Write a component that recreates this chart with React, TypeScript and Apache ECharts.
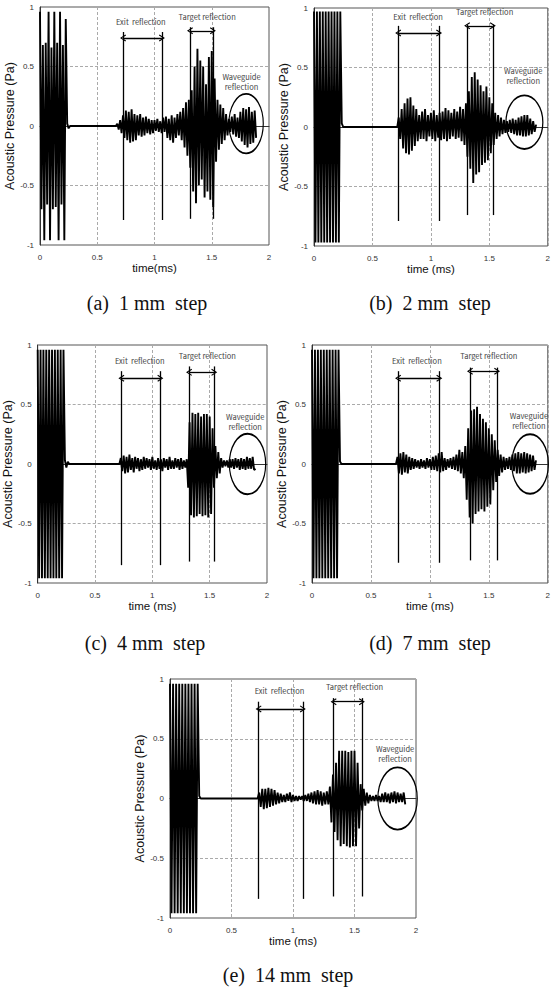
import React, { useEffect, useRef } from 'react';
import * as echarts from 'echarts';

// Sample spacing of the recorded pressure traces (ms), half a period of the 40 kHz tone.
const STEP = 0.0125;

// Signed peak pressure (Pa) of each half-cycle, 8 samples per 0.1 ms row.
const waveA = [
  0.96, -0.7, 0.68, -0.96, 0.7, -0.66, 0.96, -0.96, // 0.0
  0.66, -0.7, 0.96, -0.68, 0.7, -0.96, 0.96, -0.66, // 0.1
  0.68, -0.96, 0.9, 0.02, -0.02, 0, 0, 0, // 0.2
  0, 0, 0, 0, 0, 0, 0, 0, // 0.3
  0, 0, 0, 0, 0, 0, 0, 0, // 0.4
  0, 0, 0, 0, 0, 0, 0, 0, // 0.5
  0, 0, 0, 0, 0, 0, 0.02, -0.03, // 0.6
  0.05, -0.06, 0.09, -0.1, 0.13, -0.12, 0.12, -0.14, // 0.7
  0.14, -0.13, 0.1, -0.12, 0.09, -0.08, 0.1, -0.09, // 0.8
  0.07, -0.08, 0.08, -0.06, 0.06, -0.07, 0.05, -0.06, // 0.9
  0.05, -0.04, 0.06, -0.05, 0.04, -0.06, 0.07, -0.05, // 1.0
  0.08, -0.1, 0.06, -0.12, 0.09, -0.14, 0.07, -0.1, // 1.1
  0.1, -0.08, 0.12, -0.12, 0.15, -0.18, 0.2, -0.25, // 1.2
  0.22, -0.35, 0.3, -0.55, 0.5, -0.65, 0.65, -0.5, // 1.3
  0.55, -0.45, 0.5, -0.6, 0.35, -0.55, 0.58, -0.62, // 1.4
  0.63, -0.68, 0.4, -0.3, 0.22, -0.2, 0.18, -0.15, // 1.5
  0.15, -0.12, 0.1, -0.08, 0.06, -0.05, 0.08, -0.07, // 1.6
  0.1, -0.09, 0.07, -0.1, 0.12, -0.13, 0.15, -0.16, // 1.7
  0.14, -0.18, 0.16, -0.15, 0.12, -0.14, 0.13, -0.1, // 1.8
];

const waveB = [
  0.97, -0.97, 0.97, -0.97, 0.97, -0.97, 0.97, -0.97, // 0.0
  0.97, -0.97, 0.97, -0.97, 0.97, -0.97, 0.97, -0.97, // 0.1
  0.97, -0.97, 0.97, 0.03, 0, 0, 0, 0, // 0.2
  0, 0, 0, 0, 0, 0, 0, 0, // 0.3
  0, 0, 0, 0, 0, 0, 0, 0, // 0.4
  0, 0, 0, 0, 0, 0, 0, 0, // 0.5
  0, 0, 0, 0, 0, 0, 0, 0, // 0.6
  0, 0, 0.08, -0.1, 0.15, -0.18, 0.2, -0.22, // 0.7
  0.24, -0.23, 0.25, -0.2, 0.18, -0.16, 0.15, -0.12, // 0.8
  0.1, -0.1, 0.13, -0.1, 0.15, -0.12, 0.1, -0.08, // 0.9
  0.12, -0.1, 0.14, -0.12, 0.1, -0.09, 0.12, -0.11, // 1.0
  0.13, -0.1, 0.16, -0.12, 0.14, -0.1, 0.12, -0.08, // 1.1
  0.15, -0.1, 0.13, -0.09, 0.17, -0.12, 0.15, -0.15, // 1.2
  0.2, -0.25, 0.3, -0.35, 0.42, -0.47, 0.46, -0.4, // 1.3
  0.4, -0.38, 0.35, -0.32, 0.3, -0.3, 0.34, -0.28, // 1.4
  0.25, -0.22, 0.2, -0.15, 0.12, -0.1, 0.1, -0.08, // 1.5
  0.08, -0.06, 0.06, -0.05, 0.05, -0.04, 0.06, -0.05, // 1.6
  0.07, -0.06, 0.06, -0.07, 0.08, -0.07, 0.09, -0.08, // 1.7
  0.1, -0.08, 0.1, -0.07, 0.07, -0.06, 0.05, -0.04, // 1.8
  0.02, // 1.9
];

const waveC = [
  0.96, -0.96, 0.96, -0.96, 0.96, -0.96, 0.96, -0.96, // 0.0
  0.96, -0.96, 0.96, -0.96, 0.96, -0.96, 0.96, -0.96, // 0.1
  0.96, -0.96, 0.96, 0.03, -0.03, 0.02, 0, 0, // 0.2
  0, 0, 0, 0, 0, 0, 0, 0, // 0.3
  0, 0, 0, 0, 0, 0, 0, 0, // 0.4
  0, 0, 0, 0, 0, 0, 0, 0, // 0.5
  0, 0, 0, 0, 0, 0, 0, 0, // 0.6
  0, 0, 0.05, -0.06, 0.07, -0.08, 0.06, -0.07, // 0.7
  0.08, -0.05, 0.05, -0.07, 0.06, -0.04, 0.05, -0.06, // 0.8
  0.04, -0.05, 0.06, -0.04, 0.05, -0.03, 0.04, -0.05, // 0.9
  0.06, -0.04, 0.03, -0.05, 0.05, -0.04, 0.04, -0.06, // 1.0
  0.05, -0.03, 0.04, -0.05, 0.06, -0.04, 0.03, -0.04, // 1.1
  0.05, -0.03, 0.04, -0.05, 0.05, -0.04, 0.03, -0.03, // 1.2
  0.04, -0.2, 0.35, -0.43, 0.43, -0.45, 0.42, -0.44, // 1.3
  0.43, -0.42, 0.4, -0.44, 0.42, -0.43, 0.42, -0.45, // 1.4
  0.4, -0.42, 0.3, -0.2, 0.15, -0.12, 0.1, -0.08, // 1.5
  0.05, -0.03, 0.03, -0.02, 0.03, -0.03, 0.04, -0.03, // 1.6
  0.04, -0.04, 0.05, -0.03, 0.04, -0.05, 0.05, -0.04, // 1.7
  0.04, -0.05, 0.06, -0.04, 0.05, -0.04, 0.06, -0.05, // 1.8
  -0.04, // 1.9
];

const waveD = [
  0.96, -0.96, 0.96, -0.96, 0.96, -0.96, 0.96, -0.96, // 0.0
  0.96, -0.96, 0.96, -0.96, 0.96, -0.96, 0.96, -0.96, // 0.1
  0.96, -0.96, 0.96, 0.02, 0, 0, 0, 0, // 0.2
  0, 0, 0, 0, 0, 0, 0, 0, // 0.3
  0, 0, 0, 0, 0, 0, 0, 0, // 0.4
  0, 0, 0, 0, 0, 0, 0, 0, // 0.5
  0, 0, 0, 0, 0, 0, 0, 0, // 0.6
  0, 0, 0.06, -0.08, 0.09, -0.09, 0.1, -0.07, // 0.7
  0.08, -0.08, 0.06, -0.05, 0.05, -0.04, 0.04, -0.03, // 0.8
  0.03, -0.04, 0.04, -0.03, 0.03, -0.04, 0.05, -0.03, // 0.9
  0.04, -0.05, 0.06, -0.05, 0.07, -0.06, 0.09, -0.07, // 1.0
  0.1, -0.06, 0.05, -0.05, 0.04, -0.03, 0.05, -0.04, // 1.1
  0.06, -0.05, 0.08, -0.06, 0.12, -0.08, 0.1, -0.12, // 1.2
  0.15, -0.3, 0.3, -0.45, 0.45, -0.5, 0.46, -0.42, // 1.3
  0.48, -0.4, 0.42, -0.38, 0.38, -0.4, 0.35, -0.36, // 1.4
  0.3, -0.34, 0.25, -0.22, 0.2, -0.15, 0.12, -0.1, // 1.5
  0.08, -0.07, 0.06, -0.05, 0.05, -0.04, 0.06, -0.05, // 1.6
  0.08, -0.06, 0.09, -0.08, 0.1, -0.08, 0.09, -0.07, // 1.7
  0.1, -0.08, 0.09, -0.07, 0.08, -0.06, 0.07, -0.05, // 1.8
  0.03, // 1.9
];

const waveE = [
  0.96, -0.96, 0.96, -0.96, 0.96, -0.96, 0.96, -0.96, // 0.0
  0.96, -0.96, 0.96, -0.96, 0.96, -0.96, 0.96, -0.96, // 0.1
  0.96, -0.96, 0.96, 0.02, 0, 0, 0, 0, // 0.2
  0, 0, 0, 0, 0, 0, 0, 0, // 0.3
  0, 0, 0, 0, 0, 0, 0, 0, // 0.4
  0, 0, 0, 0, 0, 0, 0, 0, // 0.5
  0, 0, 0, 0, 0, 0, 0, 0, // 0.6
  0, 0, 0.05, -0.07, 0.08, -0.09, 0.08, -0.08, // 0.7
  0.09, -0.07, 0.08, -0.06, 0.07, -0.05, 0.05, -0.04, // 0.8
  0.04, -0.03, 0.03, -0.03, 0.04, -0.02, 0.05, -0.03, // 0.9
  0.03, -0.02, 0.02, -0.02, 0.02, -0.01, 0.02, -0.02, // 1.0
  0.03, -0.02, 0.04, -0.03, 0.05, -0.04, 0.06, -0.05, // 1.1
  0.07, -0.05, 0.06, -0.06, 0.05, -0.05, 0.06, -0.05, // 1.2
  0.1, -0.2, 0.2, -0.28, 0.3, -0.35, 0.4, -0.4, // 1.3
  0.4, -0.38, 0.4, -0.4, 0.39, -0.41, 0.4, -0.4, // 1.4
  0.4, -0.4, 0.3, -0.25, 0.12, -0.1, 0.08, -0.06, // 1.5
  0.05, -0.04, 0.03, -0.02, 0.02, -0.02, 0.03, -0.02, // 1.6
  0.02, -0.03, 0.04, -0.03, 0.05, -0.03, 0.04, -0.04, // 1.7
  0.05, -0.03, 0.06, -0.04, 0.05, -0.03, 0.04, -0.03, // 1.8
  0.05, -0.05, // 1.9
];

const WAVES = [waveA, waveB, waveC, waveD, waveE];

const CAPTIONS = [
  '(a)\u00a0 1 mm\u00a0 step',
  '(b)\u00a0 2 mm\u00a0 step',
  '(c)\u00a0 4 mm\u00a0 step',
  '(d)\u00a0 7 mm\u00a0 step',
  '(e)\u00a0 14 mm\u00a0 step',
];
const X_NAMES = ['time(ms)', 'time (ms)', 'time (ms)', 'time (ms)', 'time (ms)'];
const Y_NAME = 'Acoustic Pressure (Pa)';

// Gate edges (ms) of the exit and target reflections.
const EXIT_EDGES = [[0.725, 1.065], [0.72, 1.07], [0.73, 1.07], [0.73, 1.08], [0.72, 1.08]];
const TARGET_EDGES = [[1.31, 1.51], [1.31, 1.53], [1.32, 1.54], [1.34, 1.57], [1.33, 1.56]];
// Vertical span (Pa) of the gate lines: [top, bottom].
const EXIT_SPAN = [[0.79, -0.79], [0.85, -0.79], [0.78, -0.85], [0.78, -0.83], [0.81, -0.84]];
const TARGET_SPAN = [[0.83, -0.78], [0.86, -0.74], [0.82, -0.82], [0.81, -0.81], [0.84, -0.82]];
// Level (Pa) of the double arrows.
const EXIT_ARROW = [0.74, 0.79, 0.72, 0.72, 0.75];
const TARGET_ARROW = [0.8, 0.85, 0.77, 0.78, 0.81];
// Label anchors [ms, Pa].
const EXIT_LABEL = [[0.88, 0.88], [0.89, 0.93], [0.89, 0.87], [0.89, 0.87], [0.89, 0.9]];
const TARGET_LABEL = [[1.46, 0.92], [1.46, 0.97], [1.48, 0.91], [1.5, 0.91], [1.5, 0.94]];
const GUIDE_LABEL = [[1.76, 0.375], [1.79, 0.43], [1.81, 0.36], [1.84, 0.365], [1.83, 0.38]];
// Waveguide ellipse: [centre ms, centre Pa, width ms, height Pa].
const GUIDE_RING = [[1.8, 0.02, 0.3, 0.5], [1.8, 0.04, 0.31, 0.45], [1.83, 0, 0.31, 0.51], [1.85, 0, 0.31, 0.5], [1.85, 0, 0.32, 0.52]];

// Plot boxes on the page.
const GRIDS = [
  { left: 40, top: 7, width: 229, height: 238 },
  { left: 314, top: 8, width: 238, height: 238 },
  { left: 33, top: 345, width: 234, height: 238 },
  { left: 312, top: 345, width: 236, height: 238 },
  { left: 170, top: 679, width: 246, height: 239 },
];
const Y_NAME_GAP = [21, 20, 19, 19, 19];
const CAPTION_POS = [[147, 303], [430, 303], [145, 643], [430, 643], [288, 975]];

const SANS = '"Liberation Sans", Arial, sans-serif';
const NOTE_FONT = '"Noto Sans CJK KR", "Noto Sans", sans-serif';
const CHEVRON = 'path://M5,0 L10,9 L8.6,10 L5,3.2 L1.4,10 L0,9 Z';
const ELLIPSE = 'path://M0,50 A50,50 0 1,1 100,50 A50,50 0 1,1 0,50 Z';

function buildOption(): echarts.EChartsOption {
  const grid = GRIDS.map((g) => ({
    ...g,
    show: true,
    borderColor: '#555',
    borderWidth: 1,
    backgroundColor: '#fff',
    containLabel: false,
  }));

  const xAxis = GRIDS.map((_, i) => ({
    type: 'value' as const,
    gridIndex: i,
    min: 0,
    max: 2,
    interval: 0.5,
    name: X_NAMES[i],
    nameLocation: 'middle' as const,
    nameGap: 17,
    nameTextStyle: { fontFamily: SANS, fontSize: 11.5, color: '#111' },
    axisLine: { show: true, lineStyle: { color: '#333', width: 1 } },
    axisTick: { show: false },
    axisLabel: { fontFamily: SANS, fontSize: 8, color: '#333', margin: 8 },
    splitLine: { show: true, lineStyle: { color: '#aaa', type: [3, 2] as any, width: 1 } },
  }));

  const yAxis = GRIDS.map((_, i) => ({
    type: 'value' as const,
    gridIndex: i,
    min: -1,
    max: 1,
    interval: 0.5,
    name: Y_NAME,
    nameLocation: 'middle' as const,
    nameGap: Y_NAME_GAP[i],
    nameTextStyle: { fontFamily: SANS, fontSize: 12.5, color: '#111' },
    axisLine: { show: true, lineStyle: { color: '#333', width: 1 } },
    axisTick: { show: false },
    axisLabel: { fontFamily: SANS, fontSize: 8, color: '#333', margin: 6 },
    splitLine: { show: true, lineStyle: { color: '#aaa', type: [3, 2] as any, width: 1 } },
  }));

  const series = WAVES.map((wave, i) => {
    const g = GRIDS[i];
    const [ex0, ex1] = EXIT_EDGES[i];
    const [tx0, tx1] = TARGET_EDGES[i];
    const vLine = (x: number, span: number[]) => [
      { coord: [x, span[1]] },
      { coord: [x, span[0]] },
    ];
    const arrow = (x0: number, x1: number, y: number) => [
      { coord: [x0, y], symbol: CHEVRON, symbolSize: [7, 6] },
      { coord: [x1, y], symbol: CHEVRON, symbolSize: [7, 6] },
    ];
    const note = (pos: number[], text: string) => ({
      coord: pos,
      symbol: 'rect',
      symbolSize: 1,
      itemStyle: { color: 'rgba(0,0,0,0)' },
      label: {
        show: true,
        position: 'inside',
        formatter: text,
        fontFamily: NOTE_FONT,
        fontSize: 7.5,
        lineHeight: 10,
        align: 'center',
        color: '#444',
      },
    });
    const [rx, ry, rw, rh] = GUIDE_RING[i];
    return {
      type: 'line' as const,
      xAxisIndex: i,
      yAxisIndex: i,
      data: wave.map((v, k) => [k * STEP, v]),
      showSymbol: false,
      symbol: 'none',
      silent: true,
      animation: false,
      lineStyle: { color: '#000', width: 1.9 },
      markLine: {
        silent: true,
        animation: false,
        symbol: ['none', 'none'],
        label: { show: false },
        lineStyle: { color: '#000', width: 1.3, type: 'solid' as const },
        emphasis: { disabled: true },
        data: [
          vLine(ex0, EXIT_SPAN[i]),
          vLine(ex1, EXIT_SPAN[i]),
          vLine(tx0, TARGET_SPAN[i]),
          vLine(tx1, TARGET_SPAN[i]),
          arrow(ex0, ex1, EXIT_ARROW[i]),
          arrow(tx0, tx1, TARGET_ARROW[i]),
        ] as any,
      },
      markPoint: {
        silent: true,
        animation: false,
        data: [
          note(EXIT_LABEL[i], 'Exit  reflection'),
          note(TARGET_LABEL[i], 'Target reflection'),
          note(GUIDE_LABEL[i], 'Waveguide\nreflection'),
          {
            coord: [rx, ry],
            symbol: ELLIPSE,
            symbolSize: [(rw / 2) * g.width, (rh / 2) * g.height],
            itemStyle: { color: 'rgba(0,0,0,0)', borderColor: '#000', borderWidth: 1.5 },
            label: { show: false },
          },
        ] as any,
      },
    };
  });

  const graphic = CAPTIONS.map((text, i) => ({
    type: 'text' as const,
    x: CAPTION_POS[i][0],
    y: CAPTION_POS[i][1],
    silent: true,
    style: {
      text,
      fill: '#111',
      fontFamily: '"Liberation Serif", "Times New Roman", serif',
      fontSize: 20,
      align: 'center' as const,
      verticalAlign: 'middle' as const,
    },
  }));

  return {
    animation: false,
    backgroundColor: '#fff',
    grid,
    xAxis,
    yAxis,
    series,
    graphic,
  } as echarts.EChartsOption;
}

export default function App() {
  const ref = useRef<HTMLDivElement>(null);
  useEffect(() => {
    if (!ref.current) return;
    const chart = echarts.init(ref.current, null, { renderer: 'svg' });
    chart.setOption(buildOption());
    return () => chart.dispose();
  }, []);
  return (
    <div
      ref={ref}
      style={{ position: 'absolute', left: 0, top: 0, width: 553, height: 987, background: '#fff' }}
    />
  );
}
